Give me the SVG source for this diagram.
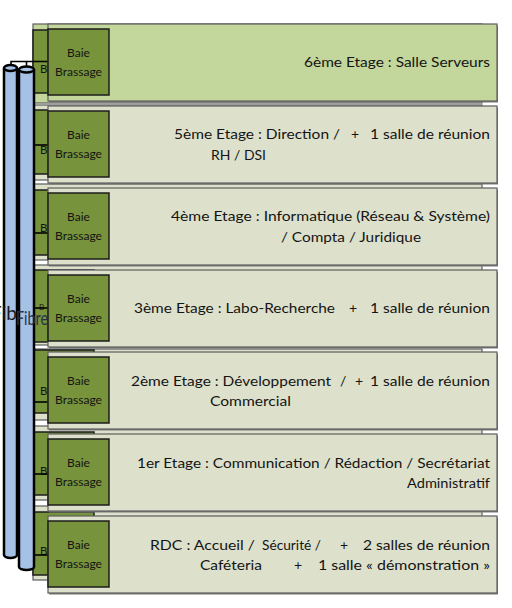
<svg xmlns="http://www.w3.org/2000/svg" width="512" height="608" viewBox="0 0 512 608">
<style>
.bg{fill:#ffffff}
.flA{fill:#dde0cb;stroke:#5e5e5e;stroke-width:1.2}
.flG{fill:#c3d69b;stroke:#5e5e5e;stroke-width:1.2}
.sh{fill:#7a7a7a}
.baie{fill:#77933c;stroke:#1c1c1c;stroke-width:1.5}
.bt{font-family:Lato,'Noto Sans','Liberation Sans',sans-serif;font-size:12px;fill:#141414;text-anchor:middle}
.b{font-family:Lato,'Noto Sans','Liberation Sans',sans-serif;font-size:11.5px;fill:#141414}
.t{font-family:Lato,'Noto Sans','Liberation Sans',sans-serif;font-size:14px;fill:#141414}
.tube{fill:#a6c1e6;stroke:#000;stroke-width:2.5}
.con{fill:none;stroke:#000;stroke-width:1.6}
.fib{font-family:Lato,'Noto Sans','Liberation Sans',sans-serif;font-size:19px}
</style>
<rect class="bg" x="0" y="0" width="512" height="608"/>

<!-- back layer -->
<g id="back-layer">
  <rect class="flG" x="33" y="24" width="449" height="79"/>
  <rect class="baie" x="33" y="30" width="61" height="63"/>
  <text class="b" x="40" y="73">B</text>
  <rect class="flA" x="33" y="105" width="449" height="75"/>
  <rect class="baie" x="33" y="110" width="61" height="64"/>
  <text class="b" x="40" y="154">B</text>
  <rect class="flA" x="33" y="184" width="449" height="76"/>
  <rect class="baie" x="33" y="190" width="61" height="65"/>
  <text class="b" x="40" y="232">B</text>
  <rect class="flA" x="33" y="265" width="449" height="80"/>
  <rect class="baie" x="33" y="270" width="61" height="72"/>
  <text class="b" x="39" y="310" style="font-size:8px">B</text>
  <rect class="flA" x="33" y="349" width="449" height="71"/>
  <rect class="baie" x="33" y="350" width="61" height="63"/>
  <text class="b" x="40" y="395">B</text>
  <rect class="flA" x="33" y="426" width="449" height="74"/>
  <rect class="baie" x="33" y="432" width="61" height="63"/>
  <text class="b" x="40" y="475">B</text>
  <rect class="flA" x="33" y="506" width="449" height="74"/>
  <rect class="baie" x="33" y="512" width="61" height="63"/>
  <text class="b" x="40" y="555">B</text>
</g>

<!-- fibre tubes -->
<g id="fibre">
  <path class="tube" d="M4,68 V555 A6.5,3 0 0 0 17,555 V68"/>
  <ellipse class="tube" cx="10.5" cy="68" rx="6.5" ry="3"/>
  <text class="fib" x="-9" y="320" fill="#1a1a1a">Fibre</text>
  <path class="tube" d="M19,69.5 V567 A7.5,3 0 0 0 34,567 V69.5"/>
  <ellipse class="tube" cx="26.5" cy="69.5" rx="7.5" ry="3"/>
</g>

<!-- connectors -->
<g id="connectors">
  <path class="con" d="M11,65 V61.5 H48 M26.5,66.5 V61.5"/>
  <path class="con" d="M34,145 H48"/>
  <path class="con" d="M34,233 H48"/>
  <path class="con" d="M34,308 H48"/>
  <path class="con" d="M34,402 H48"/>
  <path class="con" d="M34,474 H48"/>
  <path class="con" d="M34,555 H48"/>
</g>

<text class="fib" x="16" y="325" fill="#24324a" textLength="32" lengthAdjust="spacingAndGlyphs">Fibre</text>

<!-- front floors -->
<g id="etage6">
  <rect class="sh" x="49" y="25.5" width="449" height="77"/>
  <rect class="flG" x="48" y="24" width="449" height="77"/>
  <rect class="baie" x="48" y="29" width="61" height="66"/>
  <text class="bt" x="78.5" y="57">Baie</text>
  <text class="bt" x="78.5" y="76" textLength="47" lengthAdjust="spacingAndGlyphs">Brassage</text>
  <text class="t" x="304" y="67" textLength="186" lengthAdjust="spacingAndGlyphs">6ème Etage : Salle Serveurs</text>
</g>
<g id="etage5">
  <rect class="sh" x="49" y="107.5" width="449" height="77"/>
  <rect class="flA" x="48" y="106" width="449" height="77"/>
  <rect class="baie" x="48" y="111" width="61" height="66"/>
  <text class="bt" x="78.5" y="139">Baie</text>
  <text class="bt" x="78.5" y="158" textLength="47" lengthAdjust="spacingAndGlyphs">Brassage</text>
  <text class="t" x="174" y="139" textLength="166" lengthAdjust="spacingAndGlyphs">5ème Etage : Direction /</text>
  <text class="t" x="351" y="139">+</text>
  <text class="t" x="370" y="139" textLength="120" lengthAdjust="spacingAndGlyphs">1 salle de réunion</text>
  <text class="t" x="211" y="160" textLength="55" lengthAdjust="spacingAndGlyphs">RH / DSI</text>
</g>
<g id="etage4">
  <rect class="sh" x="49" y="189.5" width="449" height="77"/>
  <rect class="flA" x="48" y="188" width="449" height="77"/>
  <rect class="baie" x="48" y="193" width="61" height="66"/>
  <text class="bt" x="78.5" y="221">Baie</text>
  <text class="bt" x="78.5" y="240" textLength="47" lengthAdjust="spacingAndGlyphs">Brassage</text>
  <text class="t" x="171" y="221" textLength="319" lengthAdjust="spacingAndGlyphs">4ème Etage : Informatique (Réseau &amp; Système)</text>
  <text class="t" x="281" y="242" textLength="140" lengthAdjust="spacingAndGlyphs">/ Compta / Juridique</text>
</g>
<g id="etage3">
  <rect class="sh" x="49" y="271.5" width="449" height="77"/>
  <rect class="flA" x="48" y="270" width="449" height="77"/>
  <rect class="baie" x="48" y="275" width="61" height="66"/>
  <text class="bt" x="78.5" y="303">Baie</text>
  <text class="bt" x="78.5" y="322" textLength="47" lengthAdjust="spacingAndGlyphs">Brassage</text>
  <text class="t" x="134" y="313" textLength="201" lengthAdjust="spacingAndGlyphs">3ème Etage : Labo-Recherche</text>
  <text class="t" x="349" y="313">+</text>
  <text class="t" x="370" y="313" textLength="120" lengthAdjust="spacingAndGlyphs">1 salle de réunion</text>
</g>
<g id="etage2">
  <rect class="sh" x="49" y="353.5" width="449" height="77"/>
  <rect class="flA" x="48" y="352" width="449" height="77"/>
  <rect class="baie" x="48" y="357" width="61" height="66"/>
  <text class="bt" x="78.5" y="385">Baie</text>
  <text class="bt" x="78.5" y="404" textLength="47" lengthAdjust="spacingAndGlyphs">Brassage</text>
  <text class="t" x="131" y="386" textLength="200" lengthAdjust="spacingAndGlyphs">2ème Etage : Développement</text>
  <text class="t" x="340" y="386">/</text>
  <text class="t" x="355" y="386">+</text>
  <text class="t" x="370" y="386" textLength="120" lengthAdjust="spacingAndGlyphs">1 salle de réunion</text>
  <text class="t" x="210" y="406" textLength="81" lengthAdjust="spacingAndGlyphs">Commercial</text>
</g>
<g id="etage1">
  <rect class="sh" x="49" y="435.5" width="449" height="77"/>
  <rect class="flA" x="48" y="434" width="449" height="77"/>
  <rect class="baie" x="48" y="439" width="61" height="66"/>
  <text class="bt" x="78.5" y="467">Baie</text>
  <text class="bt" x="78.5" y="486" textLength="47" lengthAdjust="spacingAndGlyphs">Brassage</text>
  <text class="t" x="137" y="468" textLength="353" lengthAdjust="spacingAndGlyphs">1er Etage : Communication / Rédaction / Secrétariat</text>
  <text class="t" x="407" y="488" textLength="83" lengthAdjust="spacingAndGlyphs">Administratif</text>
</g>
<g id="rdc">
  <rect class="sh" x="49" y="517.5" width="449" height="77"/>
  <rect class="flA" x="48" y="516" width="449" height="77"/>
  <rect class="baie" x="48" y="521" width="61" height="66"/>
  <text class="bt" x="78.5" y="549">Baie</text>
  <text class="bt" x="78.5" y="568" textLength="47" lengthAdjust="spacingAndGlyphs">Brassage</text>
  <text class="t" x="150" y="550" textLength="105" lengthAdjust="spacingAndGlyphs">RDC : Accueil /</text>
  <text class="t" x="262" y="550" textLength="59" lengthAdjust="spacingAndGlyphs">Sécurité /</text>
  <text class="t" x="340" y="550">+</text>
  <text class="t" x="363" y="550" textLength="127" lengthAdjust="spacingAndGlyphs">2 salles de réunion</text>
  <text class="t" x="200" y="570" textLength="62" lengthAdjust="spacingAndGlyphs">Caféteria</text>
  <text class="t" x="294" y="570">+</text>
  <text class="t" x="318" y="570" textLength="172" lengthAdjust="spacingAndGlyphs">1 salle « démonstration »</text>
</g>
</svg>
